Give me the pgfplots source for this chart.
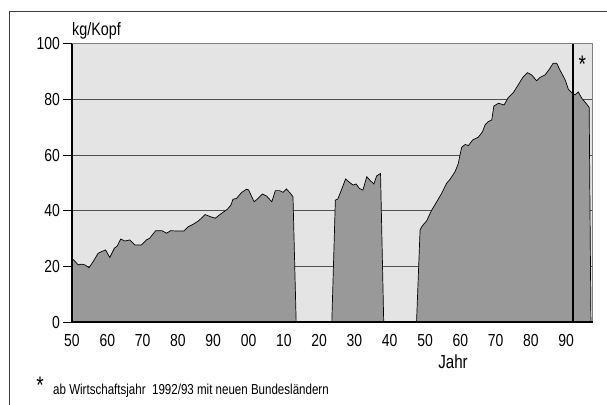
\documentclass[border=0pt]{standalone}
\usepackage{pgfplots}
\pgfplotsset{compat=1.18}
\usepackage{fontspec}
\setmainfont{Liberation Sans}[FakeStretch=0.8]
\definecolor{bgcol}{RGB}{228,228,228}
\definecolor{fillcol}{RGB}{153,153,153}
\definecolor{gridcol}{RGB}{80,80,80}
\definecolor{framecol}{RGB}{60,60,60}
\begin{document}
\begin{tikzpicture}
\useasboundingbox (0,0) rectangle (607bp,405bp);
\draw[framecol, line width=1bp] (9bp,-20bp) -- (9bp,393bp) -- (640bp,393bp);
\begin{axis}[
  at={(72bp,83bp)}, anchor=south west,
  scale only axis, width=520.7bp, height=278.3bp,
  xmin=1850, xmax=1997.5, ymin=0, ymax=100,
  axis background/.style={fill=bgcol},
  axis line style={draw=gray, line width=0.6bp},
  ytick={0,20,40,60,80,100},
  ymajorgrids, grid style={gridcol, line width=0.8bp},
  ytick pos=left, tick align=outside, major tick length=8.5bp,
  ytick style={black, line width=0.8bp},
  xtick={1850,1860,1870,1880,1890,1900,1910,1920,1930,1940,1950,1960,1970,1980,1990},
  xticklabels={50,60,70,80,90,00,10,20,30,40,50,60,70,80,90},
  xtick style={draw=none},
  /pgf/number format/assume math mode=true,
  tick label style={font=\fontsize{17.5}{17.5}\selectfont},
  yticklabel style={anchor=east, inner sep=0pt, xshift=-3.5bp},
  xticklabel style={anchor=north, inner sep=0pt, yshift=-4bp},
  clip=false,
]
\addplot[draw=black, line width=0.7bp, fill=fillcol] coordinates {
(1850,22.9) (1851.8,20.5) (1852.7,20.8) (1853.7,20.5) (1854.8,19.5) (1856,21.7)
(1857.4,24.7) (1858.4,25.3) (1859.5,25.9) (1860.7,23.2) (1862,26.5) (1862.8,27.3)
(1863.8,29.8) (1865,29.1) (1866.4,29.5) (1867.8,27.7) (1869.7,27.7) (1871.1,29.5)
(1872,30.1) (1873.7,32.8) (1875.5,32.8) (1876.8,31.9) (1877.9,32.8) (1879.6,32.7)
(1881.7,32.7) (1882.9,34.2) (1884.3,35.1) (1885.9,36.4) (1887.7,38.6) (1889.3,37.8)
(1890.6,37.3) (1892.1,38.8) (1894,40.5) (1895,42.0) (1895.6,44.1) (1896.6,44.4)
(1898,46.5) (1899.4,47.7) (1900,47.5) (1901.6,43.2) (1902.7,44.4) (1903.9,46.0)
(1905.1,45.3) (1906.6,43.2) (1907.6,47.2) (1908.8,47.2) (1909.8,46.6) (1910.7,47.8)
(1911.7,46.5) (1912.6,45.0) (1913.5,0)
(1923.6,0) (1924.6,43.8) (1925.3,44.2) (1926.3,47.4) (1927.5,51.4) (1928.6,50.2)
(1929.6,49.2) (1930.5,49.6) (1931.4,48.0) (1932.4,47.4) (1933.5,52.2) (1934.5,50.8)
(1935.5,49.6) (1936.3,52.5) (1937.4,53.4) (1938.3,0)
(1947.6,0) (1948.6,33.1) (1949.2,34.5) (1950.5,36.4) (1951.1,38.1) (1951.9,40.2)
(1953.3,43.2) (1954.7,46.2) (1956.1,49.8) (1957.1,51.3) (1958.5,54.0) (1959.4,56.8)
(1959.9,60.0) (1960.4,62.8) (1961.4,63.8) (1962.3,63.4) (1963.5,65.4) (1965.1,66.4)
(1966.3,68.4) (1967,70.8) (1967.9,72.0) (1968.9,72.6) (1969.5,77.6) (1970.8,78.6)
(1972.4,78.0) (1973.6,80.7) (1975.0,82.4) (1976.4,85.2) (1977.7,87.9) (1979.0,89.6)
(1980.2,88.8) (1981.6,86.7) (1982.6,87.9) (1984,88.8) (1985.2,90.8) (1986.3,93.0)
(1987.3,93.0) (1988.2,90.6) (1989.7,87.0) (1990.6,83.6) (1991.6,82.4) (1992.5,81.6)
(1993.4,82.7) (1994.4,80.4) (1995.6,78.6) (1996.5,77.1) (1997.0,0)
} \closedcycle;
\addplot[black, line width=2bp] coordinates {(1991.8,0) (1991.8,100)};
\draw[black, line width=1.4bp] (rel axis cs:0,1) -- (rel axis cs:0,0) -- (rel axis cs:1,0);
\node[font=\fontsize{24}{24}\selectfont, inner sep=0pt] at (axis cs:1994.6,92.5) {*};
\end{axis}
\node[anchor=base west, inner sep=0pt, font=\fontsize{18}{18}\selectfont] at (72bp,369.3bp) {kg/Kopf};
\node[anchor=base, inner sep=0pt, font=\fontsize{19}{19}\selectfont] at (453bp,37bp) {Jahr};
\node[inner sep=0pt, font=\fontsize{24}{24}\selectfont] at (40bp,20bp) {*};
\node[anchor=base west, inner sep=0pt, font=\fontsize{14.5}{14.5}\selectfont] at (53bp,11bp) {ab Wirtschaftsjahr\ \ 1992/93 mit neuen Bundesländern};
\end{tikzpicture}
\end{document}
